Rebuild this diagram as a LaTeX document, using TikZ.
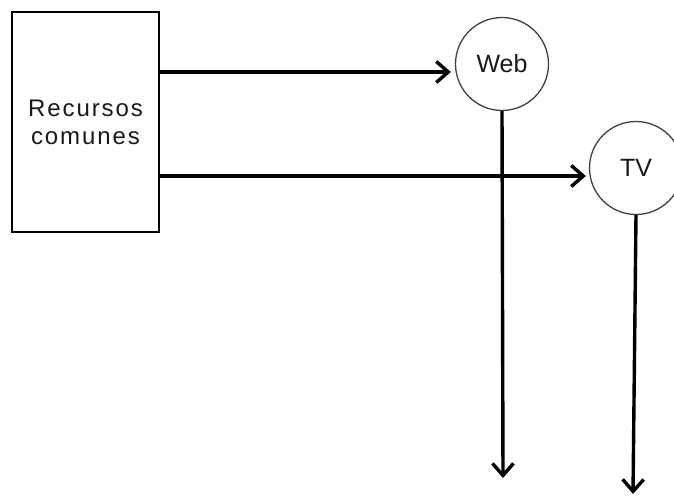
\documentclass[tikz,border=0pt]{standalone}
\usepackage{fontspec}
\setmainfont{Liberation Sans}
\usetikzlibrary{arrows.meta}
\begin{document}
\begin{tikzpicture}[x=1pt,y=-1pt,
  box/.style={draw=black,line width=1.5pt,inner sep=0pt,
    minimum width=147pt,minimum height=220pt,align=center,
    font=\fontsize{24}{28}\selectfont\addfontfeature{LetterSpace=8},
    text=black!90},
  media/.style={circle,draw=black!75,line width=1.3pt,inner sep=0pt,
    minimum size=93pt,font=\fontsize{25}{28}\selectfont,text=black!90},
  conn/.style={line width=3.4pt,
    -{Straight Barb[length=12pt,width=21pt,line width=3.4pt]}}]
  \useasboundingbox (0,0) rectangle (674,497);
  % shared resources block
  \node[box] (rc) at (85.5,122) {Recursos\\comunes};
  % output channels
  \node[media] (web) at (502,64) {Web};
  \node[media] (tv) at (636,168) {TV};
  % free ends of the outgoing arrows
  \coordinate (webout) at (503,478);
  \coordinate (tvout) at (633,494);
  % connectors
  \draw[conn,shorten >=4pt] (rc.east |- 0,72) -- (web.west |- 0,72);
  \draw[conn,shorten >=3pt] (rc.east |- 0,176) -- (tv.west |- 0,176);
  \draw[conn] (web.south) -- (webout);
  \draw[conn] (tv.south) -- (tvout);
\end{tikzpicture}
\end{document}
